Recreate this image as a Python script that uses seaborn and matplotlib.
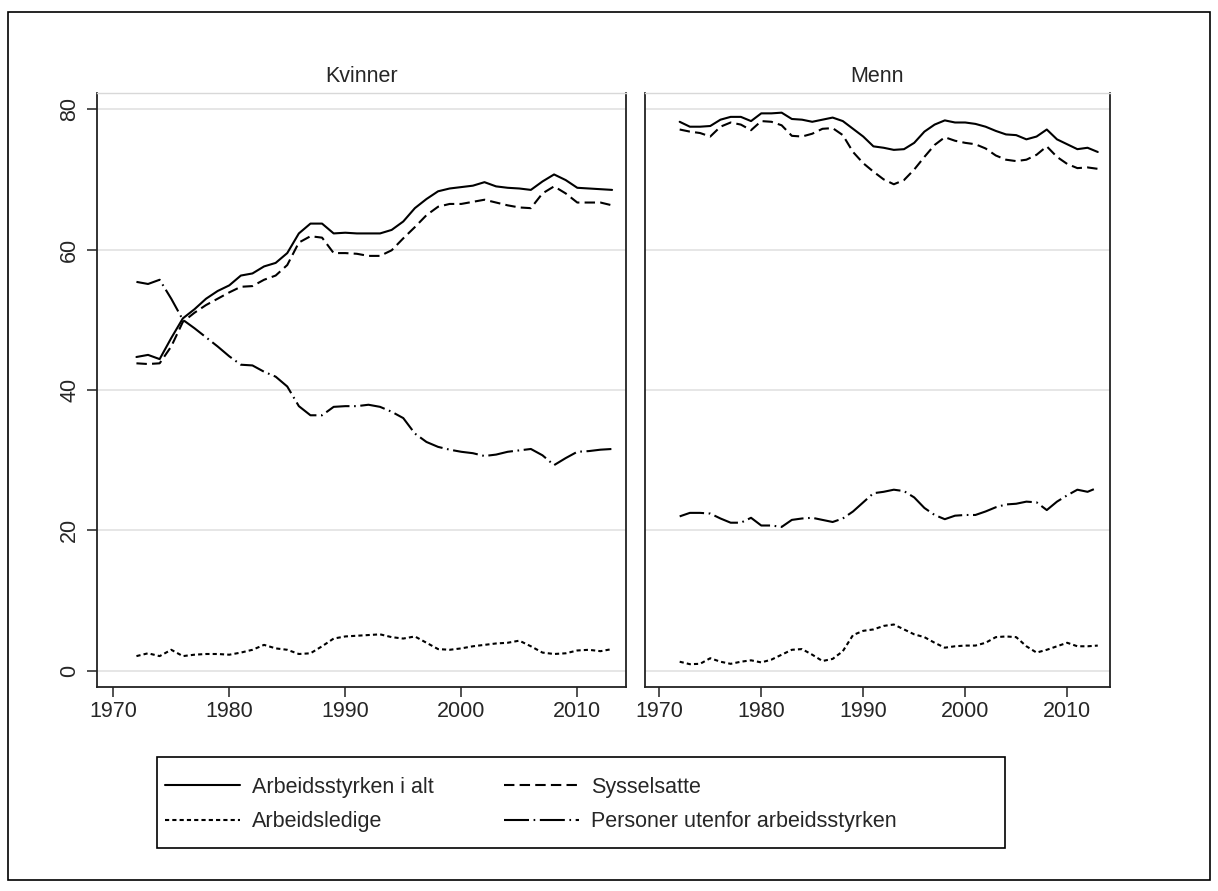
import matplotlib
matplotlib.use("Agg")
import matplotlib.pyplot as plt
from matplotlib import font_manager
from matplotlib.lines import Line2D
from matplotlib.patches import Rectangle
import numpy as np
import pandas as pd
import seaborn as sns

years = list(range(1972, 2014))
series_names = ["Arbeidsstyrken i alt", "Sysselsatte", "Arbeidsledige",
                "Personer utenfor arbeidsstyrken"]
panel_titles = ["Kvinner", "Menn"]
x_ticks = [1970, 1980, 1990, 2000, 2010]
y_ticks = [0, 20, 40, 60, 80]

kv_arbeidsstyrken = [44.7, 45.0, 44.4, 47.4, 50.2, 51.5, 53.0, 54.1, 54.9, 56.3,
                     56.6, 57.6, 58.1, 59.5, 62.3, 63.7, 63.7, 62.3, 62.4, 62.3,
                     62.3, 62.3, 62.8, 64.0, 65.9, 67.2, 68.3, 68.7, 68.9, 69.1,
                     69.6, 69.0, 68.8, 68.7, 68.5, 69.7, 70.7, 69.9, 68.8, 68.7,
                     68.6, 68.5]
kv_sysselsatte = [43.8, 43.7, 43.8, 46.2, 49.7, 51.0, 52.1, 53.0, 53.9, 54.7,
                  54.8, 55.7, 56.3, 57.8, 61.0, 61.9, 61.7, 59.5, 59.5, 59.4,
                  59.1, 59.1, 59.9, 61.6, 63.2, 64.9, 66.1, 66.5, 66.5, 66.8,
                  67.1, 66.7, 66.3, 66.0, 65.9, 68.0, 69.0, 68.0, 66.7, 66.7,
                  66.7, 66.3]
kv_ledige = [2.1, 2.5, 2.1, 3.0, 2.1, 2.3, 2.4, 2.4, 2.3, 2.6,
             3.0, 3.7, 3.2, 3.0, 2.4, 2.5, 3.5, 4.6, 4.9, 5.0,
             5.1, 5.2, 4.8, 4.6, 4.9, 4.0, 3.1, 3.0, 3.2, 3.5,
             3.7, 3.9, 4.0, 4.3, 3.5, 2.6, 2.4, 2.5, 2.9, 3.0,
             2.8, 3.1]
kv_utenfor = [55.4, 55.1, 55.7, 53.0, 50.0, 48.8, 47.5, 46.2, 44.8, 43.6,
              43.5, 42.6, 41.9, 40.5, 37.7, 36.4, 36.4, 37.6, 37.7, 37.7,
              37.9, 37.6, 36.9, 36.0, 33.8, 32.6, 31.9, 31.5, 31.2, 31.0,
              30.6, 30.8, 31.2, 31.4, 31.6, 30.7, 29.3, 30.3, 31.2, 31.3,
              31.5, 31.6]

me_arbeidsstyrken = [78.2, 77.5, 77.5, 77.6, 78.5, 78.9, 78.9, 78.3, 79.4, 79.4,
                     79.5, 78.6, 78.5, 78.2, 78.5, 78.8, 78.3, 77.2, 76.1, 74.7,
                     74.5, 74.2, 74.3, 75.2, 76.8, 77.8, 78.4, 78.1, 78.1, 77.9,
                     77.5, 76.9, 76.4, 76.3, 75.7, 76.1, 77.1, 75.7, 75.0, 74.3,
                     74.5, 73.9]
me_sysselsatte = [77.1, 76.8, 76.6, 76.1, 77.5, 78.1, 77.8, 77.0, 78.3, 78.2,
                  77.7, 76.2, 76.1, 76.5, 77.2, 77.3, 76.3, 73.9, 72.3, 71.1,
                  70.0, 69.3, 69.9, 71.4, 73.2, 74.9, 76.0, 75.5, 75.2, 75.0,
                  74.4, 73.4, 72.8, 72.6, 72.8, 73.5, 74.7, 73.2, 72.2, 71.6,
                  71.7, 71.5]
me_ledige = [1.3, 0.95, 1.0, 1.8, 1.3, 1.0, 1.3, 1.5, 1.2, 1.6,
             2.3, 3.0, 3.1, 2.3, 1.4, 1.7, 2.8, 5.1, 5.7, 5.9,
             6.4, 6.6, 5.9, 5.2, 4.8, 4.0, 3.3, 3.5, 3.6, 3.6,
             4.0, 4.8, 4.9, 4.8, 3.5, 2.6, 3.0, 3.5, 4.0, 3.5,
             3.5, 3.6]
me_utenfor = [22.0, 22.5, 22.5, 22.4, 21.7, 21.1, 21.1, 21.8, 20.7, 20.7,
              20.5, 21.5, 21.7, 21.8, 21.5, 21.2, 21.7, 22.7, 24.0, 25.3,
              25.5, 25.8, 25.6, 24.7, 23.2, 22.2, 21.6, 22.1, 22.2, 22.2,
              22.7, 23.3, 23.7, 23.8, 24.1, 24.0, 22.9, 24.1, 25.0, 25.8,
              25.5, 26.1]

panels = {
    "Kvinner": [kv_arbeidsstyrken, kv_sysselsatte, kv_ledige, kv_utenfor],
    "Menn": [me_arbeidsstyrken, me_sysselsatte, me_ledige, me_utenfor],
}

rows = []
for title, vals in panels.items():
    for name, v in zip(series_names, vals):
        for yr, val in zip(years, v):
            rows.append({"panel": title, "serie": name, "year": yr, "value": val})
df = pd.DataFrame(rows)

sns.set_style("white")
avail = {f.name for f in font_manager.fontManager.ttflist}
fam = [f for f in ["Liberation Sans Narrow", "Liberation Sans", "DejaVu Sans"] if f in avail]
plt.rcParams["font.family"] = fam

FS = 15.5
LW = 1.5
dash_map = {
    "Arbeidsstyrken i alt": "",
    "Sysselsatte": (5, 2.5),
    "Arbeidsledige": (2, 1.5),
    "Personer utenfor arbeidsstyrken": (12, 2.2, 0.8, 2.2),
}

W, H = 1218, 891
fig = plt.figure(figsize=(W / 100, H / 100), dpi=100)
fig.patch.set_facecolor("white")

top_px, bot_px = 93, 687
boxes = [(97, 626), (645, 1110)]
xlim = (1968.6, 2014.2)
ylim = (-2.3, 82.3)

for i, (title, (x0, x1)) in enumerate(zip(panel_titles, boxes)):
    ax = fig.add_axes([x0 / W, 1 - bot_px / H, (x1 - x0) / W, (bot_px - top_px) / H])
    sub = df[df["panel"] == title]
    sns.lineplot(data=sub, x="year", y="value", style="serie", style_order=series_names,
                 dashes=dash_map, color="black", linewidth=LW, ax=ax, legend=False)
    ax.set_xlim(*xlim)
    ax.set_ylim(*ylim)
    ax.set_xticks(x_ticks)
    ax.set_yticks(y_ticks)
    ax.set_xlabel("")
    ax.set_ylabel("")
    ax.grid(axis="y", color="#e6e6e6", linewidth=1.4)
    ax.grid(axis="x", visible=False)
    ax.set_axisbelow(True)
    for s in ["left", "bottom", "right"]:
        ax.spines[s].set_color("#222222")
        ax.spines[s].set_linewidth(1.3)
    ax.spines["top"].set_color("#d8d8d8")
    ax.spines["top"].set_linewidth(1.0)
    ax.tick_params(axis="x", direction="out", length=7, width=1.1, color="#222222",
                   labelsize=FS, pad=3, bottom=True)
    if i == 0:
        ax.tick_params(axis="y", direction="out", length=7, width=1.1, color="#222222",
                       labelsize=FS, pad=5, left=True, labelrotation=90)
        for lab in ax.get_yticklabels():
            lab.set_va("center")
    else:
        ax.tick_params(axis="y", left=False, labelleft=False)
    ax.set_title(title, fontsize=FS, pad=8)

handles = [Line2D([], [], color="black", linewidth=LW,
                  linestyle="-" if dash_map[n] == "" else (0, dash_map[n]))
           for n in series_names]

common = dict(loc="upper left", frameon=False, fontsize=FS, handlelength=3.5,
              handletextpad=0.55, labelspacing=0.62, borderpad=0, borderaxespad=0)
leg1 = fig.legend([handles[0], handles[2]], [series_names[0], series_names[2]],
                  bbox_to_anchor=(165 / W, 1 - 777 / H), **common)
leg2 = fig.legend([handles[1], handles[3]], [series_names[1], series_names[3]],
                  bbox_to_anchor=(504 / W, 1 - 777 / H), **common)

fig.patches.append(Rectangle((157 / W, 1 - 848 / H), 848 / W, 91 / H,
                             transform=fig.transFigure, fill=False,
                             edgecolor="black", linewidth=1.2))
fig.patches.append(Rectangle((8 / W, 1 - 880 / H), 1202 / W, 868 / H,
                             transform=fig.transFigure, fill=False,
                             edgecolor="black", linewidth=1.2))

fig.savefig("out.png", dpi=100, facecolor="white")
